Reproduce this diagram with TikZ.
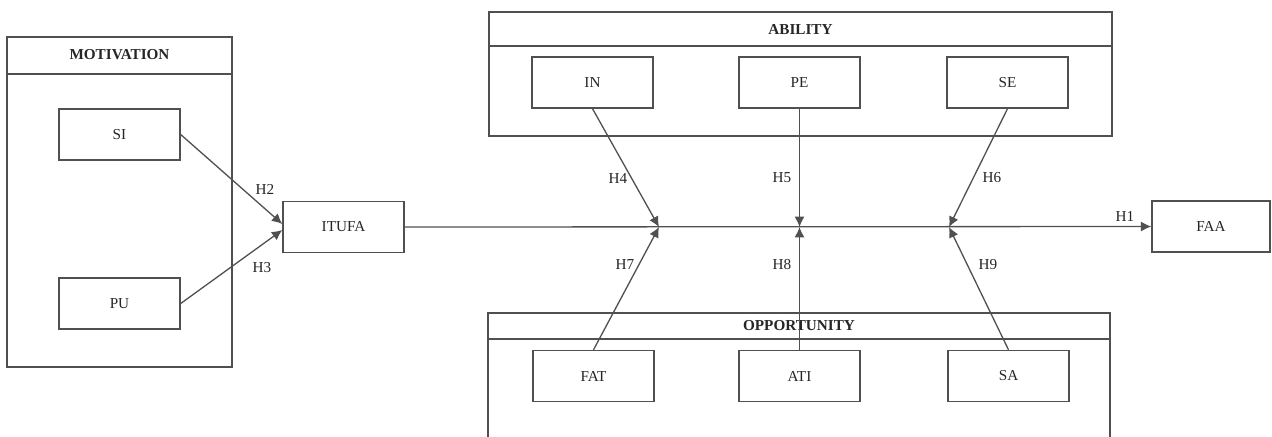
\documentclass[tikz,border=0pt]{standalone}
\usepackage{fontspec}
\setmainfont{Liberation Serif}
\usetikzlibrary{arrows.meta}
\definecolor{ln}{HTML}{505050}
\tikzset{
  every node/.style={font=\fontsize{7.6pt}{9pt}\selectfont, text=black!85},
  var/.style={draw=ln, line width=0.7pt, rectangle, minimum width=60.5pt, minimum height=25.5pt, inner sep=0pt},
  group/.style={draw=ln, line width=0.7pt, rectangle, inner sep=0pt},
  head/.style={font=\fontsize{7.6pt}{9pt}\selectfont\bfseries},
  hlab/.style={inner sep=1pt},
  conn/.style={draw=ln, line width=0.65pt},
  arr/.style={conn, -{Latex[length=5.2pt,width=5pt]}}
}
\begin{document}
\begin{tikzpicture}[x=0.5pt,y=-0.5pt]
\useasboundingbox (0,0) rectangle (1272,436);
\clip (0,0) rectangle (1272,436);
\fill[white] (0,0) rectangle (1272,436);
% groups
\node[group, minimum width=112.5pt, minimum height=165pt] (mot) at (119.5,202) {};
\draw[conn] (mot.west |- 0,74) -- (mot.east |- 0,74);
\node[head] (mott) at (119.5,55) {MOTIVATION};
\node[group, minimum width=311.5pt, minimum height=62pt] (abi) at (800.5,74) {};
\draw[conn] (abi.west |- 0,46) -- (abi.east |- 0,46);
\node[head] (abit) at (800.5,29) {ABILITY};
\node[group, minimum width=311pt, minimum height=90pt] (opp) at (799,403) {};
\draw[conn] (opp.west |- 0,339) -- (opp.east |- 0,339);
\node[head] (oppt) at (799,326) {OPPORTUNITY};
% variables
\node[var] (SI) at (119.5,134.5) {SI};
\node[var] (PU) at (119.5,303.5) {PU};
\node[var] (ITUFA) at (343.5,227) {ITUFA};
\node[var, minimum width=59pt] (FAA) at (1211,226.5) {FAA};
\node[var] (IN) at (592.5,82.5) {IN};
\node[var] (PE) at (799.5,82.5) {PE};
\node[var] (SE) at (1007.5,82.5) {SE};
\node[var] (FAT) at (593.5,376) {FAT};
\node[var] (ATI) at (799.5,376) {ATI};
\node[var] (SA) at (1008.5,376) {SA};
% junctions
\coordinate (J1) at (659,227);
\coordinate (J2) at (799.5,227);
\coordinate (J3) at (949,227);
\coordinate (Ia) at ([yshift=1.5pt]ITUFA.west);
\coordinate (Ib) at ([yshift=-1.5pt]ITUFA.west);
% connectors
\draw[arr] (SI.east) -- (Ia);
\draw[arr] (PU.east) -- (Ib);
\draw[arr] (ITUFA.east) -- (FAA.west);
\draw[arr] (IN.south) -- (J1);
\draw[arr] (PE.south) -- (J2);
\draw[arr] (SE.south) -- (J3);
\draw[arr] (FAT.north) -- (J1);
\draw[arr] (ATI.north) -- (J2);
\draw[arr] (SA.north) -- (J3);
% labels
\node[hlab] (h2) at (265,189) {H2};
\node[hlab] (h3) at (262,268) {H3};
\node[hlab] (h1) at (1125,216) {H1};
\node[hlab] (h4) at (618,178) {H4};
\node[hlab] (h5) at (782,178) {H5};
\node[hlab] (h6) at (992,178) {H6};
\node[hlab] (h7) at (625,265) {H7};
\node[hlab] (h8) at (782,265) {H8};
\node[hlab] (h9) at (988,265) {H9};
\end{tikzpicture}
\end{document}
